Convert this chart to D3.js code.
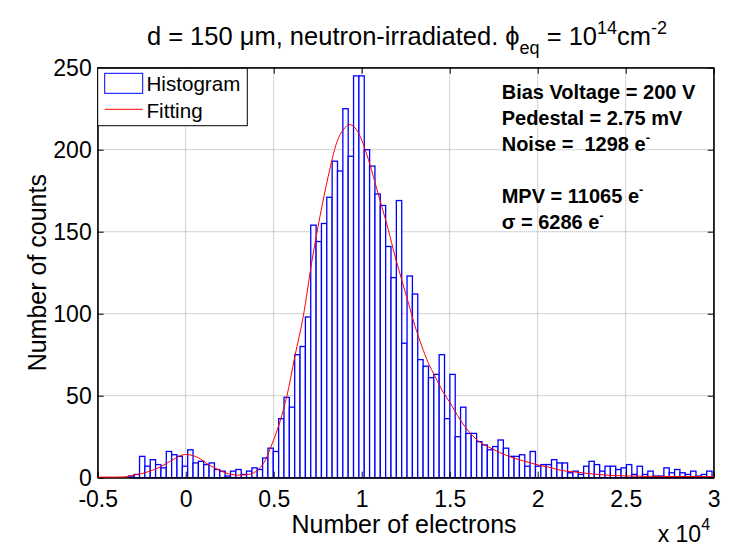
<!DOCTYPE html>
<html>
<head>
<meta charset="utf-8">
<script src="https://cdn.jsdelivr.net/npm/d3@7/dist/d3.min.js"></script>
<style>
  html, body { margin: 0; padding: 0; background: #fff; }
  svg { display: block; }
  text { font-family: "Liberation Sans", Arial, sans-serif; fill: #000; }
</style>
</head>
<body>
<div id="chart"></div>
<script>
// ---- data (number of electrons, counts) ----
const binWidth = 304;
const binCenters = [
  -3079, -2775, -2471, -2167, -1863, -1559, -1255, -951, -647, -343,
  -39, 265, 569, 873, 1177, 1481, 1785, 2089, 2393, 2697,
  3001, 3305, 3609, 3913, 4217, 4521, 4825, 5129, 5433, 5737,
  6041, 6345, 6649, 6953, 7257, 7561, 7865, 8169, 8473, 8777,
  9081, 9385, 9689, 9993, 10297, 10601, 10905, 11209, 11513, 11817,
  12121, 12425, 12729, 13033, 13337, 13641, 13945, 14249, 14553, 14857,
  15161, 15465, 15769, 16073, 16377, 16681, 16985, 17289, 17593, 17897,
  18201, 18505, 18809, 19113, 19417, 19721, 20025, 20329, 20633, 20937,
  21241, 21545, 21849, 22153, 22457, 22761, 23065, 23369, 23673, 23977,
  24281, 24585, 24889, 25193, 25497, 25801, 26105, 26409, 26713, 27017,
  27321, 27625, 27929, 28233, 28537, 28841, 29145, 29449, 29753
];
const counts = [
  1, 2, 13, 7, 11, 8, 6, 16, 14, 13,
  7, 17, 9, 10, 8, 9, 5, 4, 1, 4,
  5, 2, 4, 6, 5, 12, 18, 16, 36, 49,
  43, 75, 80, 98, 154, 144, 155, 171, 193, 187,
  225, 196, 245, 245, 200, 190, 173, 166, 141, 122,
  169, 82, 123, 112, 72, 68, 61, 63, 75, 36,
  63, 25, 43, 27, 27, 22, 20, 17, 19, 23,
  18, 13, 13, 14, 7, 16, 7, 8, 8, 11,
  9, 9, 3, 4, 2, 7, 10, 8, 4, 7,
  7, 5, 6, 8, 2, 7, 2, 4, 1, 1,
  6, 3, 5, 3, 2, 4, 1, 2, 4
];
// fitted curve
const fitX = [-5000, -4000, -3500, -3260, -2310, -1360, -800, 0, 720, 1280,
  1850, 2420, 2990, 3560, 4130, 4500, 4790, 5360, 5740, 6210,
  6680, 7160, 7630, 8100, 8580, 9050, 9280, 9620, 9900, 10380,
  10760, 11140, 11510, 11890, 12270, 12650, 13030, 13410, 13780, 14160,
  14640, 15020, 15580, 16150, 16720, 17290, 17860, 18430, 19000, 19560,
  20130, 20700, 21270, 21840, 22400, 23500, 25000, 27000, 30000];
const fitY = [0, 0, 0.1, 0.6, 2.7, 6.7, 10.2, 13.8, 11.8, 7.7,
  4.5, 2, 1.2, 1.6, 4.7, 9.8, 17, 34, 49, 74,
  98, 131, 159, 183.5, 204, 213, 215, 213, 208, 193.7,
  179.5, 165, 151, 134.8, 120.5, 106.3, 92, 80, 69.7, 61.6,
  51.5, 45.4, 35.2, 27, 21.3, 17.9, 14.9, 12.4, 10.4, 8.8,
  7.1, 5.9, 4.2, 3.4, 2.8, 1.5, 0.7, 0.4, 0.3];

const xTicks = [-5000, 0, 5000, 10000, 15000, 20000, 25000, 30000];
const xTickLabels = ["-0.5", "0", "0.5", "1", "1.5", "2", "2.5", "3"];
const yTicks = [0, 50, 100, 150, 200, 250];

const infoLines = [
  {t: "Bias Voltage = 200 V", sup: ""},
  {t: "Pedestal = 2.75 mV", sup: ""},
  {t: "Noise =\u00a0\u00a01298 e", sup: "-"},
  {t: "", sup: ""},
  {t: "MPV = 11065 e", sup: "-"},
  {t: "\u03c3 = 6286 e", sup: "-"}
];

// ---- layout ----
const W = 730, H = 546;
const L = 97.7, R = 713.7, T = 67.7, B = 477.7;

const svg = d3.select("#chart").append("svg")
  .attr("width", W).attr("height", H);
svg.append("rect").attr("width", W).attr("height", H).attr("fill", "#fff");

const x = d3.scaleLinear().domain([-5000, 30000]).range([L, R]);
const y = d3.scaleLinear().domain([0, 250]).range([B, T]);

// grid
const grid = svg.append("g");
grid.selectAll("line.gx").data(xTicks).join("line")
  .attr("x1", d => x(d)).attr("x2", d => x(d))
  .attr("y1", T).attr("y2", B)
  .attr("stroke", "#8c8c8c").attr("stroke-width", 0.8).attr("stroke-dasharray", "1,1");
grid.selectAll("line.gy").data(yTicks).join("line")
  .attr("x1", L).attr("x2", R)
  .attr("y1", d => y(d)).attr("y2", d => y(d))
  .attr("stroke", "#8c8c8c").attr("stroke-width", 0.8).attr("stroke-dasharray", "1,1");

// bars
svg.append("g").selectAll("rect").data(binCenters).join("rect")
  .attr("x", d => x(d - binWidth / 2))
  .attr("width", d => x(d + binWidth / 2) - x(d - binWidth / 2))
  .attr("y", (d, i) => y(counts[i]))
  .attr("height", (d, i) => y(0) - y(counts[i]))
  .attr("fill", "#fff")
  .attr("stroke", "#0000ff")
  .attr("stroke-width", 1.3);

// axes (ticks inside, box)
const fmtX = d => xTickLabels[xTicks.indexOf(d)];
const axB = svg.append("g").attr("transform", `translate(0,${B})`)
  .call(d3.axisBottom(x).tickValues(xTicks).tickFormat(fmtX).tickSize(-6).tickSizeOuter(0));
axB.selectAll("text").attr("y", 29).attr("dy", 0).style("font-size", "23px");
const axT = svg.append("g").attr("transform", `translate(0,${T})`)
  .call(d3.axisTop(x).tickValues(xTicks).tickFormat("").tickSize(-6).tickSizeOuter(0));
const axL = svg.append("g").attr("transform", `translate(${L},0)`)
  .call(d3.axisLeft(y).tickValues(yTicks).tickFormat(d3.format("d")).tickSize(-6).tickSizeOuter(0).tickPadding(6));
axL.selectAll("text").attr("dy", "0.34em").style("font-size", "23px");
const axR = svg.append("g").attr("transform", `translate(${R},0)`)
  .call(d3.axisRight(y).tickValues(yTicks).tickFormat("").tickSize(-6).tickSizeOuter(0));
svg.selectAll(".domain").attr("stroke", "#000");
svg.selectAll(".tick line").attr("stroke", "#000");
svg.selectAll(".tick text").attr("font-family", null);

svg.append("rect").attr("x", L).attr("y", T).attr("width", R - L).attr("height", B - T)
  .attr("fill", "none").attr("stroke", "#000").attr("stroke-width", 1);

// fit curve (drawn on top)
const line = d3.line().x(d => x(d[0])).y(d => y(d[1]) - 0.6).curve(d3.curveMonotoneX);
svg.append("path")
  .datum(fitX.map((v, i) => [v, fitY[i]]))
  .attr("d", line)
  .attr("fill", "none")
  .attr("stroke", "#ff0000")
  .attr("stroke-width", 1);

// legend
const lg = svg.append("g");
lg.append("rect").attr("x", L).attr("y", T + 0.6).attr("width", 149.6).attr("height", 57.4)
  .attr("fill", "#fff").attr("stroke", "#000").attr("stroke-width", 1);
lg.append("rect").attr("x", 104.7).attr("y", 73.3).attr("width", 38).attr("height", 20)
  .attr("fill", "#fff").attr("stroke", "#0000ff").attr("stroke-width", 1);
lg.append("line").attr("x1", 104.7).attr("x2", 142.7).attr("y1", 109.3).attr("y2", 109.3)
  .attr("stroke", "#ff0000").attr("stroke-width", 1);
lg.append("text").attr("x", 146.5).attr("y", 90.7).style("font-size", "20.6px").text("Histogram");
lg.append("text").attr("x", 146.5).attr("y", 118).style("font-size", "20.6px").text("Fitting");

// info text
const info = svg.append("g");
infoLines.forEach((ln, i) => {
  if (!ln.t) return;
  const t = info.append("text").attr("x", 501.7).attr("y", 99.3 + i * 26)
    .style("font-size", "20px").style("font-weight", "bold");
  t.append("tspan").text(ln.t);
  if (ln.sup) t.append("tspan").attr("dy", -9).style("font-size", "13px").text(ln.sup);
});

// title
const title = svg.append("text").attr("x", 407).attr("y", 45).attr("text-anchor", "middle")
  .style("font-size", "25.5px");
title.append("tspan").text("d = 150 \u03bcm, neutron-irradiated. \u03d5");
title.append("tspan").attr("dy", 9).style("font-size", "18px").text("eq");
title.append("tspan").attr("dy", -9).text(" = 10");
title.append("tspan").attr("dy", -11).style("font-size", "18px").text("14");
title.append("tspan").attr("dy", 11).text("cm");
title.append("tspan").attr("dy", -11).style("font-size", "18px").text("-2");

// axis labels
svg.append("text").attr("x", 404).attr("y", 533).attr("text-anchor", "middle")
  .style("font-size", "25px").text("Number of electrons");
svg.append("text").attr("transform", `translate(46,${(T + B) / 2}) rotate(-90)`)
  .attr("text-anchor", "middle").style("font-size", "25px").text("Number of counts");
const sc = svg.append("text").attr("x", 657.7).attr("y", 542).style("font-size", "23px");
sc.append("tspan").text("x 10");
sc.append("tspan").attr("dy", -12).style("font-size", "16px").text("4");
</script>
</body>
</html>
